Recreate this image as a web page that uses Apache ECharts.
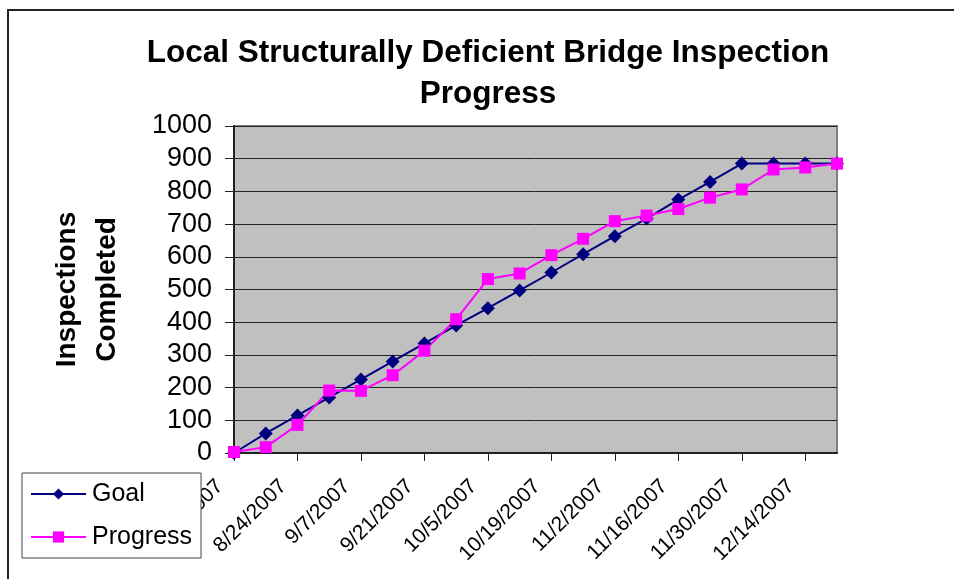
<!DOCTYPE html>
<html>
<head>
<meta charset="utf-8">
<script src="https://cdn.jsdelivr.net/npm/echarts@6/dist/echarts.min.js"></script>
<style>
  html, body { margin: 0; padding: 0; background: #fff; }
  #main { width: 954px; height: 579px; }
</style>
</head>
<body>
<div id="main"></div>
<script>
// weekly dates
const weeks = [
  '8/10/2007', '8/17/2007', '8/24/2007', '8/31/2007', '9/7/2007',
  '9/14/2007', '9/21/2007', '9/28/2007', '10/5/2007', '10/12/2007',
  '10/19/2007', '10/26/2007', '11/2/2007', '11/9/2007', '11/16/2007',
  '11/23/2007', '11/30/2007', '12/7/2007', '12/14/2007', '12/21/2007'
];
const goal = [0, 60, 115, 170, 225, 280, 335, 390, 443, 497, 552, 608, 663, 717, 775, 829, 885, 885, 885, 885];
const progress = [3, 18, 86, 191, 190, 238, 313, 409, 532, 549, 605, 655, 709, 726, 746, 781, 806, 867, 873, 885];

const chart = echarts.init(document.getElementById('main'));
const font = 'Liberation Sans, Arial, sans-serif';

const option = {
  animation: false,
  textStyle: { fontFamily: font },
  // outer chart frame
  graphic: [{
    type: 'rect',
    shape: { x: 8, y: 10, width: 1000, height: 1000 },
    style: { fill: 'none', stroke: '#222', lineWidth: 2 },
    z: -1
  }],
  title: {
    text: 'Local Structurally Deficient Bridge Inspection\nProgress',
    left: 483,
    textAlign: 'center',
    top: 28,
    textStyle: { fontFamily: font, fontSize: 31.5, fontWeight: 'bold', color: '#000', lineHeight: 41 }
  },
  legend: {
    orient: 'vertical',
    left: 22,
    top: 473,
    padding: [6, 9, 6, 8],
    itemGap: 13,
    itemWidth: 55,
    itemHeight: 14,
    backgroundColor: '#fff',
    borderColor: '#444',
    borderWidth: 1,
    data: ['Goal', 'Progress'],
    textStyle: { fontFamily: font, fontSize: 25, color: '#000', lineHeight: 30, padding: [0, 0, 0, 1] }
  },
  grid: {
    left: 234,
    right: 117,
    top: 126,
    bottom: 126,
    show: true,
    backgroundColor: '#C0C0C0',
    borderColor: '#808080',
    borderWidth: 2
  },
  xAxis: {
    type: 'category',
    data: weeks,
    boundaryGap: false,
    axisLine: { lineStyle: { color: '#222', width: 2 } },
    axisTick: { interval: 1, length: 8, lineStyle: { color: '#222' } },
    axisLabel: {
      interval: 1,
      rotate: 45,
      margin: 16,
      padding: [0, 20, 0, 0],
      fontSize: 21,
      fontFamily: font,
      color: '#000'
    },
    splitLine: { show: false }
  },
  yAxis: {
    type: 'value',
    min: 0,
    max: 1000,
    interval: 100,
    name: 'Inspections\nCompleted',
    nameLocation: 'middle',
    nameRotate: 90,
    nameGap: 107,
    nameTextStyle: { fontFamily: font, fontSize: 28, fontWeight: 'bold', color: '#000', lineHeight: 40 },
    axisLine: { show: true, lineStyle: { color: '#222', width: 2 } },
    axisTick: { show: true, length: 9, lineStyle: { color: '#222' } },
    axisLabel: { fontSize: 27, fontFamily: font, color: '#000', margin: 22, formatter: (v) => String(v) },
    splitLine: { lineStyle: { color: '#222', width: 1 } }
  },
  series: [
    {
      name: 'Goal',
      type: 'line',
      data: goal,
      symbol: 'diamond',
      symbolSize: 14,
      color: '#000080',
      lineStyle: { color: '#000080', width: 2 },
      itemStyle: { color: '#000080' }
    },
    {
      name: 'Progress',
      type: 'line',
      data: progress,
      symbol: 'rect',
      symbolSize: 12,
      color: '#FF00FF',
      lineStyle: { color: '#FF00FF', width: 2 },
      itemStyle: { color: '#FF00FF' }
    }
  ]
};

chart.setOption(option);
</script>
</body>
</html>
